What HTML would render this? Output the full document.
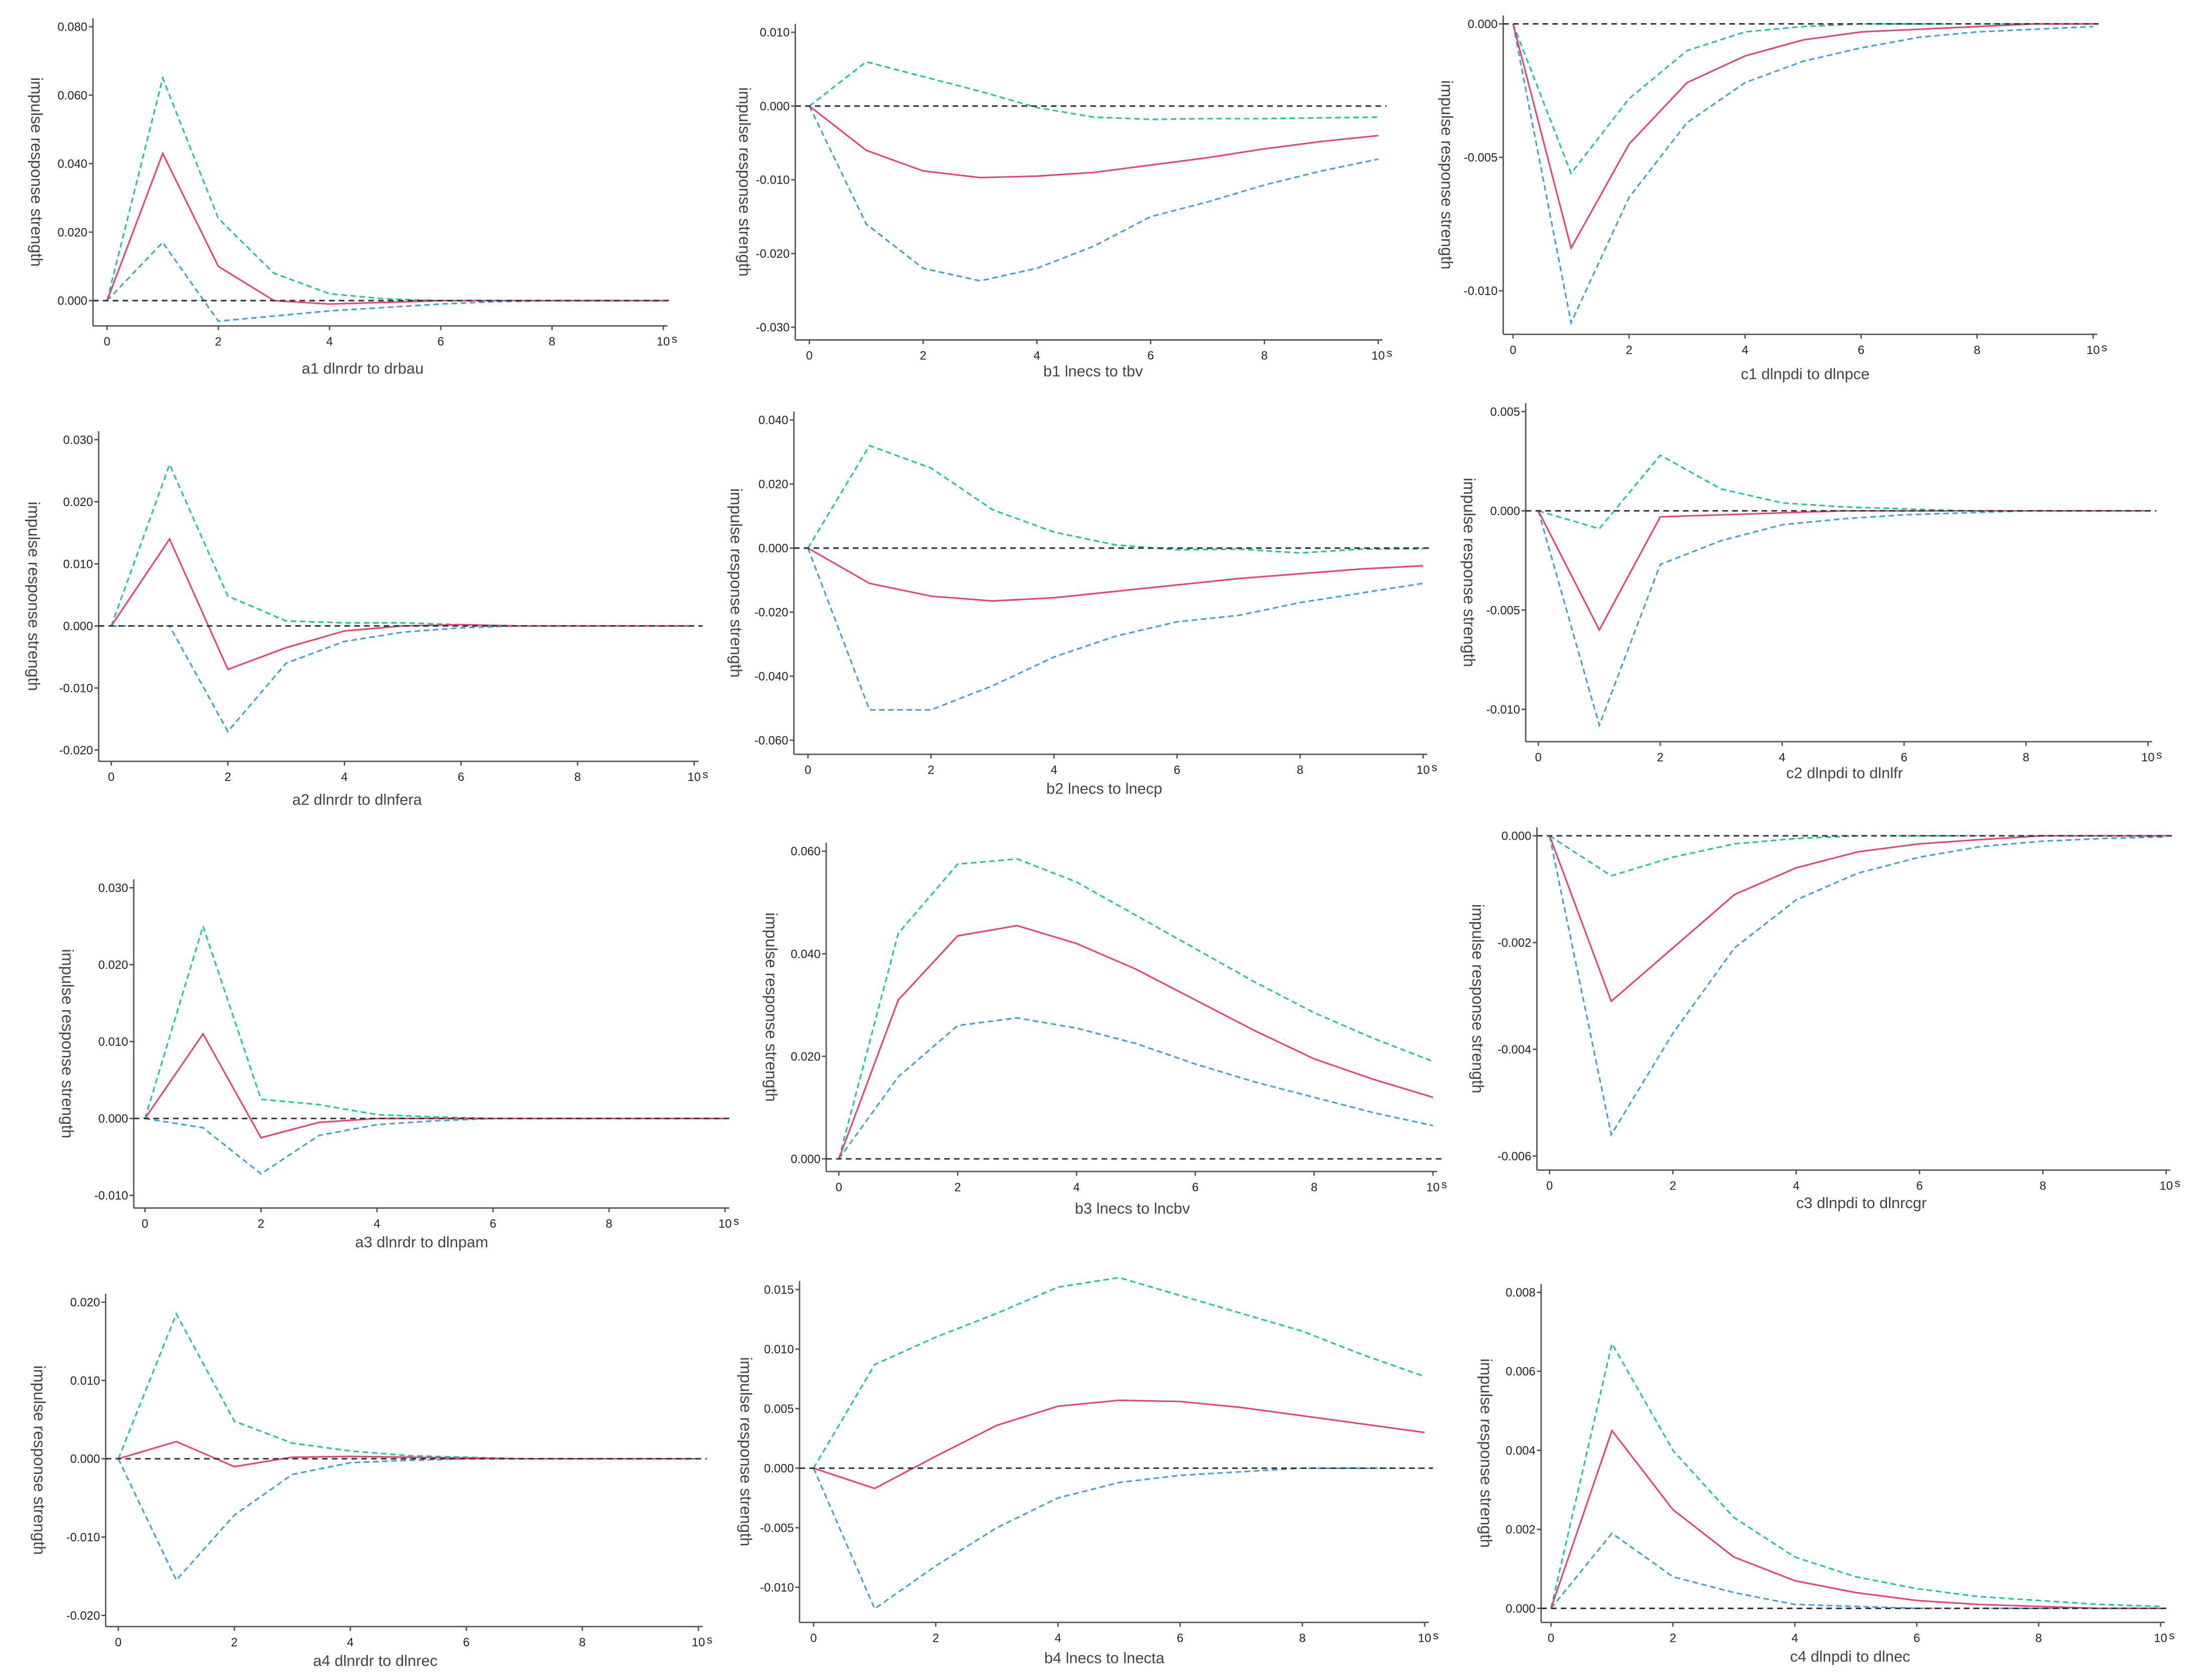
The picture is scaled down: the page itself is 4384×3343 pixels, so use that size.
<!DOCTYPE html>
<html><head><meta charset="utf-8">
<style>
html,body{margin:0;padding:0;background:#fff;}
svg{display:block;}
text{font-family:"Liberation Sans",sans-serif;}
</style></head>
<body>
<svg id="chart" width="4384" height="3343" viewBox="0 0 1568 1196" xmlns="http://www.w3.org/2000/svg"></svg>
<script>
const periods=[0,1,2,3,4,5,6,7,8,9,10];
const xTickValues=[0,2,4,6,8,10];
const xTickLabels=["0","2","4","6","8","10"];
const a1Red=[0,0.043,0.010,0,-0.001,-0.0005,0,0,0,0,0];
const a1Green=[0,0.065,0.024,0.008,0.002,0.0005,0,0,0,0,0];
const a1Blue=[0,0.017,-0.006,-0.0045,-0.003,-0.002,-0.001,-0.0003,0,0,0];
const a1Ticks=[0.08,0.06,0.04,0.02,0];
const b1Red=[0,-0.006,-0.0088,-0.0097,-0.0095,-0.009,-0.008,-0.007,-0.0058,-0.0048,-0.004];
const b1Green=[0,0.006,0.004,0.002,-0.0002,-0.0015,-0.0018,-0.0017,-0.0017,-0.0016,-0.0015];
const b1Blue=[0,-0.016,-0.022,-0.0237,-0.022,-0.019,-0.015,-0.013,-0.0107,-0.0088,-0.0072];
const b1Ticks=[0.01,0,-0.01,-0.02,-0.03];
const c1Red=[0,-0.0084,-0.0045,-0.0022,-0.0012,-0.0006,-0.0003,-0.0002,-0.0001,0,0];
const c1Green=[0,-0.0056,-0.0028,-0.001,-0.0003,-0.0001,0,0,0,0,0];
const c1Blue=[0,-0.0112,-0.0065,-0.0037,-0.0022,-0.0014,-0.0009,-0.0005,-0.0003,-0.0002,-0.0001];
const c1Ticks=[0,-0.005,-0.01];
const a2Red=[0,0.014,-0.007,-0.0035,-0.0008,0,0.0002,0,0,0,0];
const a2Green=[0,0.026,0.0048,0.0008,0.0005,0.0005,0.0002,0,0,0,0];
const a2Blue=[0,0,-0.017,-0.006,-0.0025,-0.001,-0.0003,0,0,0,0];
const a2Ticks=[0.03,0.02,0.01,0,-0.01,-0.02];
const b2Red=[0,-0.011,-0.015,-0.0165,-0.0155,-0.0135,-0.0115,-0.0095,-0.008,-0.0065,-0.0055];
const b2Green=[0,0.032,0.025,0.012,0.005,0.001,-0.0005,-0.0003,-0.0015,-0.0003,-0.0002];
const b2Blue=[0,-0.0505,-0.0505,-0.043,-0.034,-0.0275,-0.023,-0.021,-0.017,-0.014,-0.011];
const b2Ticks=[0.04,0.02,0,-0.02,-0.04,-0.06];
const c2Red=[0,-0.006,-0.0003,-0.0002,-0.0001,0,0,0,0,0,0];
const c2Green=[0,-0.0009,0.0028,0.0011,0.0004,0.0002,0.0001,0,0,0,0];
const c2Blue=[0,-0.0108,-0.0027,-0.0015,-0.0007,-0.0004,-0.0002,-0.0001,0,0,0];
const c2Ticks=[0.005,0,-0.005,-0.01];
const a3Red=[0,0.011,-0.0025,-0.0005,0,0,0,0,0,0,0];
const a3Green=[0,0.025,0.0025,0.0018,0.0005,0.0002,0,0,0,0,0];
const a3Blue=[0,-0.0012,-0.0072,-0.0022,-0.0008,-0.0003,0,0,0,0,0];
const a3Ticks=[0.03,0.02,0.01,0,-0.01];
const b3Red=[0,0.031,0.0435,0.0455,0.042,0.037,0.031,0.025,0.0195,0.0155,0.012];
const b3Green=[0,0.044,0.0575,0.0585,0.054,0.0475,0.041,0.0345,0.0285,0.0235,0.019];
const b3Blue=[0,0.016,0.026,0.0275,0.0255,0.0225,0.0185,0.015,0.012,0.009,0.0065];
const b3Ticks=[0.06,0.04,0.02,0];
const c3Red=[0,-0.0031,-0.0021,-0.0011,-0.0006,-0.0003,-0.00015,-0.00007,0,0,0];
const c3Green=[0,-0.00075,-0.0004,-0.00015,-0.00005,0,0,0,0,0,0];
const c3Blue=[0,-0.0056,-0.0037,-0.0021,-0.0012,-0.0007,-0.0004,-0.0002,-0.0001,-0.00005,-0.00002];
const c3Ticks=[0,-0.002,-0.004,-0.006];
const a4Red=[0,0.0022,-0.001,0.0002,0.0003,0.0002,0.0001,0,0,0,0];
const a4Green=[0,0.0185,0.0048,0.002,0.001,0.0004,0.0002,0,0,0,0];
const a4Blue=[0,-0.0155,-0.0072,-0.002,-0.0005,-0.0002,0,0,0,0,0];
const a4Ticks=[0.02,0.01,0,-0.01,-0.02];
const b4Red=[0,-0.0017,0.001,0.0036,0.0052,0.0057,0.0056,0.0051,0.0044,0.0037,0.003];
const b4Green=[0,0.0087,0.011,0.013,0.0152,0.016,0.0145,0.013,0.0115,0.0095,0.0077];
const b4Blue=[0,-0.0118,-0.0082,-0.005,-0.0025,-0.0012,-0.0006,-0.0003,0,0,0];
const b4Ticks=[0.015,0.01,0.005,0,-0.005,-0.01];
const c4Red=[0,0.0045,0.0025,0.0013,0.0007,0.0004,0.0002,0.0001,0.00005,0,0];
const c4Green=[0,0.0067,0.004,0.0023,0.0013,0.0008,0.0005,0.0003,0.0002,0.0001,0.00005];
const c4Blue=[0,0.0019,0.0008,0.0004,0.0001,0.00005,0,0,0,0,0];
const c4Ticks=[0.008,0.006,0.004,0.002,0];

// geometry: axis x, x0/x10 pixel, top tick value/pixel, bottom tick value/pixel, x-axis y, title pos
const panels=[
 {id:'a1',title:'a1 dlnrdr  to drbau',ax:66,x0:76,x10:472,v1:0.08,p1:19,v2:0,p2:214,xy:232,tx:258,ty:266,yt:22,red:a1Red,green:a1Green,blue:a1Blue,ticks:a1Ticks},
 {id:'b1',title:'b1 lnecs to tbv',ax:566,x0:576,x10:981,v1:0.01,p1:23,v2:-0.03,p2:233,xy:242,tx:778,ty:268,yt:526,red:b1Red,green:b1Green,blue:b1Blue,ticks:b1Ticks},
 {id:'c1',title:'c1 dlnpdi to dlnpce',ax:1070,x0:1077,x10:1490,v1:0,p1:17,v2:-0.01,p2:207,xy:238,tx:1285,ty:270,yt:1026,red:c1Red,green:c1Green,blue:c1Blue,ticks:c1Ticks},
 {id:'a2',title:'a2 dlnrdr to dlnfera',ax:70,x0:79,x10:494,v1:0.03,p1:313,v2:-0.02,p2:534,xy:542,tx:254,ty:573,yt:20,red:a2Red,green:a2Green,blue:a2Blue,ticks:a2Ticks},
 {id:'b2',title:'b2 lnecs to lnecp',ax:565,x0:575,x10:1013,v1:0.04,p1:299,v2:-0.06,p2:527,xy:537,tx:786,ty:565,yt:520,red:b2Red,green:b2Green,blue:b2Blue,ticks:b2Ticks},
 {id:'c2',title:'c2 dlnpdi to dlnlfr',ax:1086,x0:1095,x10:1529,v1:0.005,p1:293,v2:-0.01,p2:505,xy:528,tx:1313,ty:554,yt:1042,red:c2Red,green:c2Green,blue:c2Blue,ticks:c2Ticks},
 {id:'a3',title:'a3 dlnrdr  to dlnpam',ax:95,x0:103,x10:516,v1:0.03,p1:632,v2:-0.01,p2:851,xy:860,tx:300,ty:888,yt:44,red:a3Red,green:a3Green,blue:a3Blue,ticks:a3Ticks},
 {id:'b3',title:'b3 lnecs to lncbv',ax:588,x0:597,x10:1020,v1:0.06,p1:606,v2:0,p2:825,xy:834,tx:806,ty:864,yt:545,red:b3Red,green:b3Green,blue:b3Blue,ticks:b3Ticks},
 {id:'c3',title:'c3 dlnpdi to dlnrcgr',ax:1094,x0:1103,x10:1542,v1:0,p1:595,v2:-0.006,p2:823,xy:833,tx:1325,ty:860,yt:1048,red:c3Red,green:c3Green,blue:c3Blue,ticks:c3Ticks},
 {id:'a4',title:'a4 dlnrdr  to dlnrec',ax:75,x0:84,x10:497,v1:0.02,p1:927,v2:-0.02,p2:1150,xy:1158,tx:267,ty:1186,yt:24,red:a4Red,green:a4Green,blue:a4Blue,ticks:a4Ticks},
 {id:'b4',title:'b4 lnecs to lnecta',ax:569,x0:579,x10:1014,v1:0.015,p1:918,v2:-0.01,p2:1130,xy:1155,tx:786,ty:1184,yt:527,red:b4Red,green:b4Green,blue:b4Blue,ticks:b4Ticks},
 {id:'c4',title:'c4 dlnpdi to dlnec',ax:1097,x0:1104,x10:1538,v1:0.008,p1:920,v2:0,p2:1145,xy:1155,tx:1317,ty:1183,yt:1054,red:c4Red,green:c4Green,blue:c4Blue,ticks:c4Ticks}
];
const NS='http://www.w3.org/2000/svg';
const svg=document.getElementById('chart');
function mk(tag,attrs,parent){const e=document.createElementNS(NS,tag);for(const k in attrs)e.setAttribute(k,attrs[k]);parent.appendChild(e);return e;}
function decimals(t){const s=Math.abs(t);return s<0.01&&s!==0&&Math.round(s*1000)!==s*1000?3:3;}
panels.forEach(p=>{
  const g=mk('g',{},svg);
  
  
  const xs=v=>p.x0+(p.x10-p.x0)*v/10;
  const ys=v=>p.p2+(p.p1-p.p2)*(v-p.v2)/(p.v1-p.v2);
  const top=p.p1-6;
  const yax=mk('line',{x1:p.ax,y1:top,x2:p.ax,y2:p.xy,stroke:'#555','stroke-width':1},g);
  
  
  const xax=mk('line',{x1:p.ax,y1:p.xy,x2:p.x10+3,y2:p.xy,stroke:'#555','stroke-width':1},g);
  
  
  p.ticks.forEach(t=>{
    const y=ys(t);
    mk('line',{x1:p.ax-3,y1:y,x2:p.ax,y2:y,stroke:'#555','stroke-width':1},g);
    const tx=mk('text',{x:p.ax-4,y:y+3,'font-size':8.5,'text-anchor':'end',fill:'#222'},g);
    tx.textContent=t.toFixed(3);
    
    
  });
  xTickValues.forEach((v,i)=>{
    const x=xs(v);
    mk('line',{x1:x,y1:p.xy,x2:x,y2:p.xy+3,stroke:'#555','stroke-width':1},g);
    const tx=mk('text',{x:x,y:p.xy+14,'font-size':8.5,'text-anchor':'middle',fill:'#222'},g);
    tx.textContent=xTickLabels[i];
    
    
  });
  const s=mk('text',{x:xs(10)+6,y:p.xy+12,'font-size':8,fill:'#222'},g);
  s.textContent='s';
  
  
  const ti=mk('text',{x:p.tx,y:p.ty,'font-size':11,'text-anchor':'middle',fill:'#444'},g);
  ti.textContent=p.title;
  
  
  const cy=(top+p.xy)/2;
  const yt=mk('text',{x:0,y:0,'font-size':11.5,'text-anchor':'middle',fill:'#444',transform:'translate('+p.yt+','+cy+') rotate(90)'},g);
  yt.textContent='impulse response strength';
  
  
  const series=[['green',p.green,'#1cc59b','4,2.5'],['blue',p.blue,'#3a9ee4','4,2.5'],['red',p.red,'#ec3f70','']];
  series.forEach(([nm,arr,col,dash])=>{
    const pts=arr.map((v,i)=>xs(periods[i]).toFixed(2)+','+ys(v).toFixed(2)).join(' ');
    const pl=mk('polyline',{points:pts,fill:'none',stroke:col,'stroke-width':1.1},g);
    if(dash)pl.setAttribute('stroke-dasharray',dash);
    
    
  });
  const z=mk('line',{x1:p.ax,y1:ys(0),x2:p.x10+6,y2:ys(0),stroke:'#333','stroke-width':1.1,'stroke-dasharray':'4,3'},g);
  
  
});
</script>
</body></html>
